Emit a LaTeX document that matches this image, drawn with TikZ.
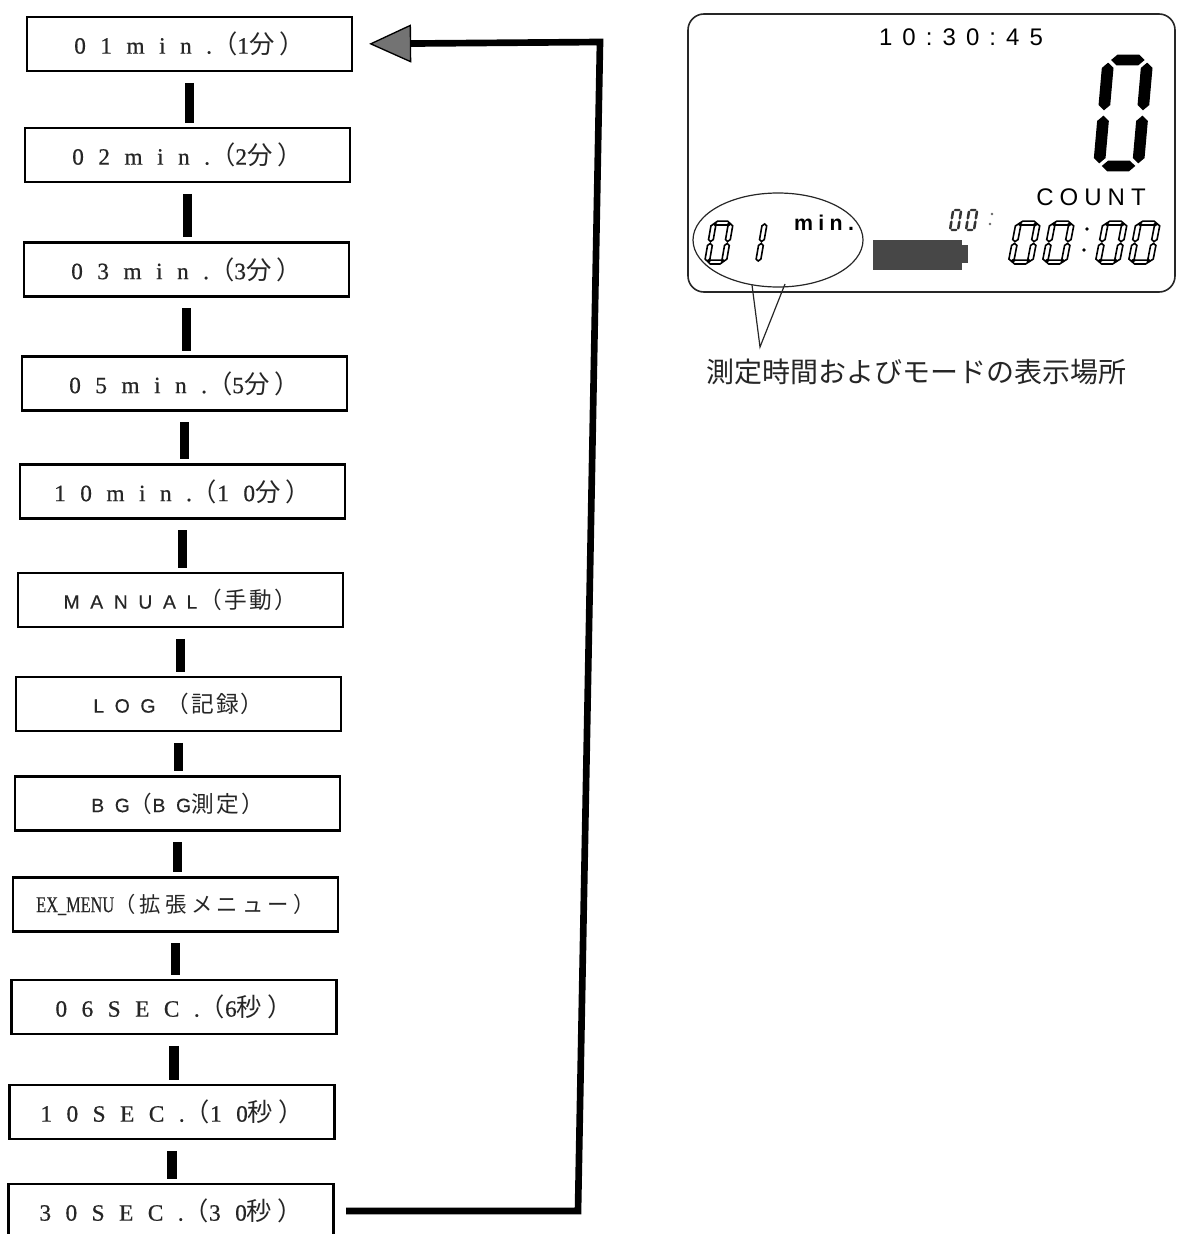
\documentclass[tikz,border=0pt]{standalone}
\usepackage{fontspec}
\setmainfont{Liberation Serif}
\newfontfamily\bxserif[LetterSpace=62,FakeBold=0.6]{Liberation Serif}
\newfontfamily\bxsans[LetterSpace=55,FakeBold=0.4]{Liberation Sans}
\newfontfamily\exfont[FakeStretch=0.72,FakeBold=0.4]{Liberation Serif}
\newfontfamily\jp{Noto Sans CJK JP}
\newfontfamily\jpw[LetterSpace=20]{Noto Sans CJK JP}
\newfontfamily\jpm[LetterSpace=10]{Noto Sans CJK JP}
\newfontfamily\lcd[LetterSpace=42]{Liberation Sans}
\newfontfamily\lcdb[LetterSpace=25]{Liberation Sans}
\usetikzlibrary{arrows.meta}

% seven-segment helpers (unit cell: width 1, height 2)
\def\dgSlant{-0.12}\def\dgGap{0.07}\def\dgGapV{0.05}\def\dgHx{0.15}\def\dgHy{0.1}
\newcommand\segh[1]{(\dgGap,#1) -- (\dgGap+\dgHx,#1+\dgHy) -- (1-\dgGap-\dgHx,#1+\dgHy) -- (1-\dgGap,#1) -- (1-\dgGap-\dgHx,#1-\dgHy) -- (\dgGap+\dgHx,#1-\dgHy) -- cycle}
\newcommand\segv[2]{(#1,#2+\dgGapV) -- (#1+\dgHx,#2+\dgGapV+\dgHy) -- (#1+\dgHx,#2+1-\dgGapV-\dgHy) -- (#1,#2+1-\dgGapV) -- (#1-\dgHx,#2+1-\dgGapV-\dgHy) -- (#1-\dgHx,#2+\dgGapV+\dgHy) -- cycle}
\newcommand\digzero[5]{%
  \begin{scope}[shift={(#1,#2)}, xscale=#3, yscale=-#4, xslant=\dgSlant]
    \path[#5] \segh{0} \segh{2} \segv{0}{0} \segv{0}{1} \segv{1}{0} \segv{1}{1};
  \end{scope}}
\newcommand\digone[5]{%
  \begin{scope}[shift={(#1,#2)}, xscale=#3, yscale=-#4, xslant=\dgSlant]
    \path[#5] \segv{1}{0} \segv{1}{1};
  \end{scope}}
\newcommand\jn[1]{{\jpw\fontsize{19}{19}\selectfont #1}}
\newcommand\jm[1]{{\jpm\fontsize{17}{17}\selectfont #1}}
\newcommand\pgap{\hspace{0pt}}

\begin{document}
\begin{tikzpicture}[x=0.75pt,y=-0.75pt]
\tikzset{
  menubox/.style={draw, line width=1.7pt, minimum width=243.75pt, minimum height=40.5pt,
    inner sep=0pt, fill=white, text=black!85},
  numbox/.style={menubox, font=\bxserif\fontsize{17.5}{17.5}\selectfont},
  wordbox/.style={menubox, font=\bxsans\fontsize{14.5}{14.5}\selectfont},
  linkbar/.style={line width=7pt, shorten <=8pt, shorten >=3pt},
  retline/.style={line width=5pt, line join=miter,
    -{Triangle[length=31.5pt,width=28.5pt,fill=black!55,line width=1pt]},
    shorten <=8.6pt, shorten >=12pt},
  lcdframe/.style={draw=black!85, line width=1.2pt, rounded corners=12pt,
    minimum width=365.25pt, minimum height=208.5pt, inner sep=0pt},
  seghollow/.style={draw=black, line width=1.2pt, fill=white},
  segsmall/.style={fill=black!80},
  thinline/.style={draw=black!85, line width=0.9pt},
}
\useasboundingbox (0,0) rectangle (1177,1234);

% ---------- menu boxes ----------
\node[numbox]  (b1)  at (189.5,44)   {01min.\pgap\jn{（}1\jn{分）}};
\node[numbox]  (b2)  at (187.5,155)  {02min.\pgap\jn{（}2\jn{分）}};
\node[numbox]  (b3)  at (186.5,269.5){03min.\pgap\jn{（}3\jn{分）}};
\node[numbox]  (b4)  at (184.5,383.5){05min.\pgap\jn{（}5\jn{分）}};
\node[numbox]  (b5)  at (182.5,491.5){10min.\pgap\jn{（}10\jn{分）}};
\node[wordbox] (b6)  at (180.5,600)  {MANUAL\hspace{2pt}\jm{（手動）}};
\node[wordbox] (b7)  at (178.5,704)  {LOG\hspace{8pt}\jm{（記録）}};
\node[wordbox] (b8)  at (177.5,803.5){BG\jm{（}BG\jm{測定）}};
\node[menubox] (b9)  at (175.5,904.5){{\exfont\fontsize{17}{17}\selectfont EX\_MENU}{\jpw\fontsize{16}{16}\selectfont （拡張メニュー）}};
\node[numbox]  (b10) at (174,1007)   {06SEC.\pgap\jn{（}6\jn{秒）}};
\node[numbox]  (b11) at (172,1112)   {10SEC.\pgap\jn{（}10\jn{秒）}};
\node[numbox]  (b12) at (171,1211)   {30SEC.\pgap\jn{（}30\jn{秒）}};

% ---------- links between boxes ----------
\foreach \a/\b in {b1/b2,b2/b3,b3/b4,b4/b5,b5/b6,b6/b7,b7/b8,b8/b9,b9/b10,b10/b11,b11/b12}
  \draw[linkbar] (\a.south) -- (\a.south |- \b.north);

% ---------- return arrow ----------
\coordinate (rb) at (578,1211);
\coordinate (rt) at (600,42);
\draw[retline] (b12.east) -- (rb) -- (rt) -- (b1.east);

% ---------- LCD display ----------
\node[lcdframe] (lcd) at (931.5,153) {};
\node[font=\lcd\fontsize{18}{18}\selectfont] (clock) at (961,37) {10:30:45};
\node[font=\lcdb\fontsize{18}{18}\selectfont] (count) at (1091,197) {COUNT};
\node[font=\lcdb\bfseries\fontsize{16}{16}\selectfont] (minu) at (824,223) {min.};

% big zero
\digzero{1099}{166}{39}{53}{fill=black}

% hollow digits
\def\dgSlant{-0.2}\def\dgHx{0.14}\def\dgHy{0.1}
\digzero{707}{262}{17}{19.5}{seghollow}
\digone{741}{262}{17}{19.5}{seghollow}
\digzero{1011}{262}{19}{19.5}{seghollow}
\digzero{1045}{262}{19}{19.5}{seghollow}
\digzero{1098}{262}{19}{19.5}{seghollow}
\digzero{1131}{262}{19}{19.5}{seghollow}
\fill (1087,229) circle (1.4pt);
\fill (1084,250) circle (1.4pt);
% small 00
\def\dgHx{0.16}\def\dgHy{0.12}
\digzero{950}{230}{8}{10}{segsmall}
\digzero{966}{230}{8}{10}{segsmall}
\fill[black!60] (992,214) circle (1pt);
\fill[black!60] (990,224) circle (1pt);

% battery bar
\fill[black!72] (873,240) rectangle (962,270);
\fill[black!72] (962,245) rectangle (968,263);

% selection ellipse and callout
\draw[thinline] (778,240) ellipse [x radius=63.75pt, y radius=35.25pt];
\coordinate (cl) at (752,285);
\coordinate (cr) at (785,284);
\coordinate (apex) at (760,347);
\draw[thinline] (cl) -- (apex) -- (cr);
\node[font=\jp\fontsize{21}{21}\selectfont, text=black!85] (lbl) at (916,372) {測定時間およびモードの表示場所};
\end{tikzpicture}
\end{document}
